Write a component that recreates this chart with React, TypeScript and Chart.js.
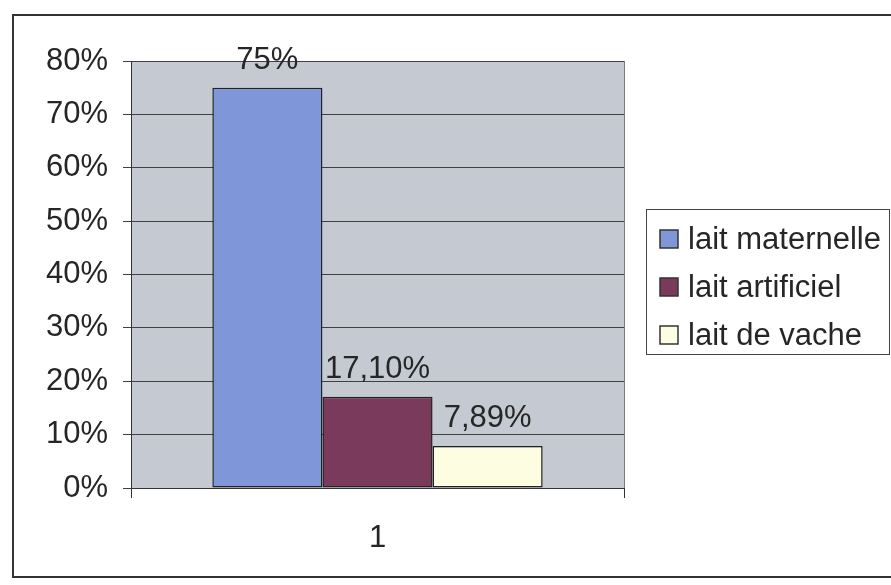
import { useEffect, useRef } from "react";
import { Chart, registerables } from "chart.js";

Chart.register(...registerables);

// Feeding type shares (percent)
const categories = ["1"];
const seriesNames = ["lait maternelle", "lait artificiel", "lait de vache"];
const seriesValues = [75, 17.1, 7.89];
const seriesColors = ["#7f97d8", "#7a3a5b", "#fdfde2"];
const yMin = 0;
const yMax = 80;
const yStep = 10;

const FONT = "'Liberation Sans', Arial, sans-serif";
const FONT_SIZE = 31;
const INK = "#262626";

const fmtPct = (v: number) =>
  Number.isInteger(v) ? `${v}%` : `${v.toFixed(2).replace(".", ",")}%`;

// Page frame, plot backdrop and plot border
const backdropPlugin = {
  id: "backdrop",
  beforeDraw(chart: any) {
    const { ctx, chartArea: a, width, height } = chart;
    ctx.save();
    ctx.fillStyle = "#ffffff";
    ctx.fillRect(0, 0, width, height);
    ctx.strokeStyle = "#333333";
    ctx.lineWidth = 2;
    ctx.strokeRect(13, 15, width + 20, 562);
    ctx.fillStyle = "#c4c9d2";
    ctx.fillRect(a.left, a.top, a.right - a.left, a.bottom - a.top);
    ctx.strokeStyle = "#7a7a7a";
    ctx.lineWidth = 1;
    ctx.strokeRect(a.left + 0.5, a.top + 0.5, a.right - a.left, a.bottom - a.top);
    ctx.restore();
  },
};

// Value labels above each bar
const valueLabelPlugin = {
  id: "valueLabels",
  afterDatasetsDraw(chart: any) {
    const { ctx } = chart;
    ctx.save();
    ctx.font = `${FONT_SIZE}px ${FONT}`;
    ctx.fillStyle = INK;
    ctx.textAlign = "center";
    ctx.textBaseline = "alphabetic";
    chart.data.datasets.forEach((ds: any, i: number) => {
      const meta = chart.getDatasetMeta(i);
      meta.data.forEach((el: any, j: number) => {
        ctx.fillText(fmtPct(ds.data[j]), el.x, el.y - 19);
      });
    });
    ctx.restore();
  },
};

// Boxed legend on the right
const boxLegendPlugin = {
  id: "boxLegend",
  afterDraw(chart: any) {
    const { ctx } = chart;
    const left = 646;
    const top = 209;
    const w = 243;
    const h = 145;
    ctx.save();
    ctx.strokeStyle = "#444444";
    ctx.lineWidth = 1;
    ctx.strokeRect(left + 0.5, top + 0.5, w, h);
    ctx.font = `${FONT_SIZE}px ${FONT}`;
    ctx.textBaseline = "middle";
    ctx.textAlign = "left";
    chart.data.datasets.forEach((ds: any, i: number) => {
      const cy = top + 30 + i * 48;
      ctx.fillStyle = ds.backgroundColor;
      ctx.fillRect(660, cy - 9, 18, 18);
      ctx.strokeStyle = "#333333";
      ctx.lineWidth = 1.5;
      ctx.strokeRect(660, cy - 9, 18, 18);
      ctx.fillStyle = INK;
      ctx.fillText(ds.label, 688, cy + 1);
    });
    ctx.restore();
  },
};

export default function App() {
  const canvasRef = useRef<HTMLCanvasElement | null>(null);

  useEffect(() => {
    const canvas = canvasRef.current;
    if (!canvas) return;
    const chart = new Chart(canvas, {
      type: "bar",
      data: {
        labels: categories,
        datasets: seriesNames.map((name, i) => ({
          label: name,
          data: [seriesValues[i]],
          backgroundColor: seriesColors[i],
          borderColor: "#222222",
          borderWidth: 1.5,
          borderSkipped: false,
          categoryPercentage: 0.67,
          barPercentage: 1,
        })),
      },
      options: {
        responsive: false,
        animation: false,
        devicePixelRatio: 1,
        layout: { padding: { left: 0, top: 61, right: 267, bottom: 0 } },
        plugins: {
          legend: { display: false },
          tooltip: { enabled: false },
          title: { display: false },
        },
        scales: {
          x: {
            afterFit(scale: any) {
              scale.height = 97;
            },
            grid: {
              display: true,
              offset: true,
              drawOnChartArea: false,
              drawTicks: true,
              tickLength: 10,
              color: "#333333",
            },
            border: { display: true, color: "#333333", width: 1 },
            ticks: {
              padding: 22,
              color: INK,
              font: { family: FONT, size: FONT_SIZE },
            },
          },
          y: {
            min: yMin,
            max: yMax,
            afterFit(scale: any) {
              scale.width = 131;
            },
            grid: {
              color: "#404040",
              lineWidth: 1,
              drawTicks: true,
              tickLength: 8,
            },
            border: { display: true, color: "#333333", width: 1 },
            ticks: {
              stepSize: yStep,
              padding: 15,
              color: INK,
              font: { family: FONT, size: FONT_SIZE },
              callback: (v: any) => `${v}%`,
            },
          },
        },
      },
      plugins: [backdropPlugin, valueLabelPlugin, boxLegendPlugin],
    });
    return () => chart.destroy();
  }, []);

  return (
    <div style={{ position: "absolute", left: 0, top: 0, width: 891, height: 585 }}>
      <canvas ref={canvasRef} width={891} height={585} style={{ display: "block" }} />
    </div>
  );
}
